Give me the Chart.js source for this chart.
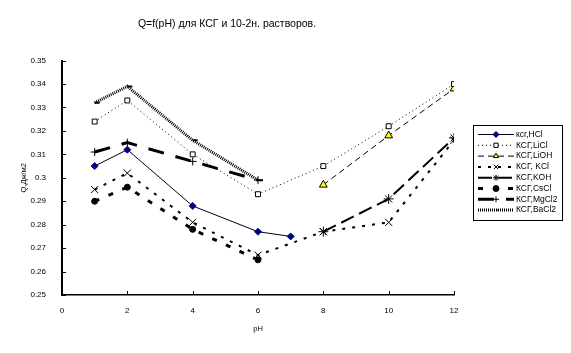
<html>
<head>
  <meta charset="UTF-8">
  <title>Q=f(pH)</title>
  <script src="https://cdn.jsdelivr.net/npm/chart.js"></script>
  <style>
    body { margin: 0; background: #fff; }
  </style>
</head>
<body>
  <canvas id="canvas" width="571" height="353"></canvas>
  <script>
    // pH values
    const phMain = [1, 2, 4, 6, 8, 10, 12];
    const phHCl = [1, 2, 4, 6, 7];
    // Q, Дж/м2 for each solution
    const qHCl = [0.305, 0.312, 0.288, 0.277, 0.275];
    const qLiCl = [0.324, 0.333, 0.310, 0.293, 0.305, 0.322, 0.340];
    const qLiOH = [null, null, null, null, 0.297, 0.318, 0.338];
    const qKCl = [0.295, 0.302, 0.281, 0.267, 0.277, 0.281, 0.316];
    const qKOH = [null, null, null, null, 0.277, 0.291, 0.317];
    const qCsCl = [0.290, 0.296, 0.278, 0.265, null, null, null];
    const qMgCl2 = [0.311, 0.315, 0.307, 0.299, null, null, null];
    const qBaCl2 = [0.332, 0.339, 0.316, 0.299, null, null, null];
    const seriesNames = ["ксг,HCl", "КСГ,LiCl", "КСГ,LiOH", "КСГ, KCl", "КСГ,KOH", "КСГ,CsCl", "КСГ,MgCl2", "КСГ,BaCl2"];

    function pts(xs, ys) {
      const out = [];
      for (let i = 0; i < xs.length; i++) {
        if (ys[i] !== null) out.push({x: xs[i], y: ys[i]});
      }
      return out;
    }

    Chart.defaults.font.family = "'Liberation Sans', Arial, sans-serif";
    Chart.defaults.font.size = 8;
    Chart.defaults.color = "#000";

    function ds(i, xs, ys, st) {
      return Object.assign({
        label: seriesNames[i],
        data: pts(xs, ys),
        borderColor: "#000",
        borderWidth: 1,
        borderDash: [],
        pointBorderColor: "#000",
        pointBackgroundColor: "#000",
        pointBorderWidth: 1,
        tension: 0,
        fill: false
      }, st);
    }

    const datasets = [
      ds(0, phHCl, qHCl, {pointStyle: "rectRot", pointRadius: 3.5, pointBackgroundColor: "#000080", pointBorderColor: "#000080", borderColor: "#000020"}),
      ds(1, phMain, qLiCl, {borderDash: [1, 3], pointStyle: "rect", pointRadius: 3.5, pointBackgroundColor: "#fff"}),
      ds(2, phMain, qLiOH, {borderDash: [6, 4], pointStyle: "triangle", pointRadius: 4.5, pointBackgroundColor: "#ffff00"}),
      ds(3, phMain, qKCl, {borderWidth: 2, borderDash: [3, 7], pointStyle: "crossRot", pointRadius: 5}),
      ds(4, phMain, qKOH, {borderWidth: 2, borderDash: [14, 6], pointStyle: "star", pointRadius: 5}),
      ds(5, phMain, qCsCl, {borderWidth: 3, borderDash: [5, 10], pointStyle: "circle", pointRadius: 3}),
      ds(6, phMain, qMgCl2, {borderWidth: 3, borderDash: [16, 12], pointStyle: "cross", pointRadius: 4}),
      ds(7, phMain, qBaCl2, {borderWidth: 3, borderDash: [1, 1], pointStyle: "dash", pointRadius: 5, pointBorderWidth: 2})
    ];

    // маленькие риски внутрь графика, как в Excel
    const innerTicks = {
      id: "innerTicks",
      afterDraw(chart) {
        const ctx = chart.ctx, x = chart.scales.x, y = chart.scales.y;
        ctx.save();
        ctx.strokeStyle = "#000";
        ctx.lineWidth = 1;
        ctx.beginPath();
        y.ticks.forEach(t => {
          const py = Math.round(y.getPixelForValue(t.value)) + 0.5;
          ctx.moveTo(x.left, py); ctx.lineTo(x.left + 4, py);
        });
        x.ticks.forEach(t => {
          const px = Math.round(x.getPixelForValue(t.value)) + 0.5;
          ctx.moveTo(px, y.bottom); ctx.lineTo(px, y.bottom - 4);
        });
        ctx.stroke();
        ctx.restore();
      }
    };

    // легенда с линией и маркером
    const boxLegend = {
      id: "boxLegend",
      afterDraw(chart) {
        const ctx = chart.ctx;
        const bx = 473.5, by = 125.5, bw = 89, bh = 95;
        ctx.save();
        ctx.fillStyle = "#fff";
        ctx.fillRect(bx, by, bw, bh);
        ctx.strokeStyle = "#000";
        ctx.lineWidth = 1;
        ctx.setLineDash([]);
        ctx.strokeRect(bx, by, bw, bh);
        chart.data.datasets.forEach((d, i) => {
          const ry = 134.5 + i * 10.8;
          ctx.save();
          ctx.strokeStyle = d.borderColor;
          ctx.lineWidth = Math.min(d.borderWidth, 3);
          ctx.setLineDash(d.borderDash);
          ctx.beginPath();
          ctx.moveTo(478, ry); ctx.lineTo(514, ry);
          ctx.stroke();
          ctx.restore();
          if (Chart.helpers && Chart.helpers.drawPoint) {
            ctx.save();
            ctx.setLineDash([]);
            ctx.fillStyle = d.pointBackgroundColor;
            ctx.strokeStyle = d.pointBorderColor;
            ctx.lineWidth = 1;
            Chart.helpers.drawPoint(ctx, {pointStyle: d.pointStyle, radius: Math.min(d.pointRadius, 3), rotation: 0, borderWidth: 1}, 496, ry);
            ctx.restore();
          }
          ctx.fillStyle = "#000";
          ctx.font = "8.5px 'Liberation Sans', Arial, sans-serif";
          ctx.textBaseline = "middle";
          ctx.textAlign = "left";
          ctx.fillText(d.label, 516, ry);
        });
        ctx.restore();
      }
    };

    new Chart(document.getElementById("canvas").getContext("2d"), {
      type: "line",
      data: { datasets: datasets },
      plugins: [innerTicks, boxLegend],
      options: {
        responsive: false,
        animation: false,
        layout: { padding: { left: 0, right: 117, top: 0, bottom: 0 } },
        plugins: {
          legend: { display: false },
          tooltip: { enabled: false },
          title: {
            display: true,
            text: "Q=f(pH) для КСГ и 10-2н. растворов.",
            font: { size: 10.5, weight: "normal" },
            color: "#000",
            padding: { top: 18, bottom: 30 }
          }
        },
        scales: {
          x: {
            type: "linear",
            min: 0, max: 12,
            afterFit: s => { s.height = 58; },
            grid: { display: false, drawTicks: false },
            border: { display: true, color: "#000", width: 1.5 },
            ticks: { stepSize: 2, padding: 11, font: { size: 8 }, maxRotation: 0 },
            title: { display: true, text: "pH", font: { size: 7.5 }, padding: { top: 4, bottom: 20 } }
          },
          y: {
            min: 0.25, max: 0.35,
            afterFit: s => { s.width = 62; },
            grid: { display: false, drawTicks: false },
            border: { display: true, color: "#000", width: 2 },
            ticks: {
              stepSize: 0.01, padding: 16, font: { size: 8 },
              callback: v => String(Math.round(v * 100) / 100)
            },
            title: { display: true, text: "Q,Дж/м2", font: { size: 7.5 }, padding: { top: 19, bottom: 4 } }
          }
        }
      }
    });
  </script>
</body>
</html>
